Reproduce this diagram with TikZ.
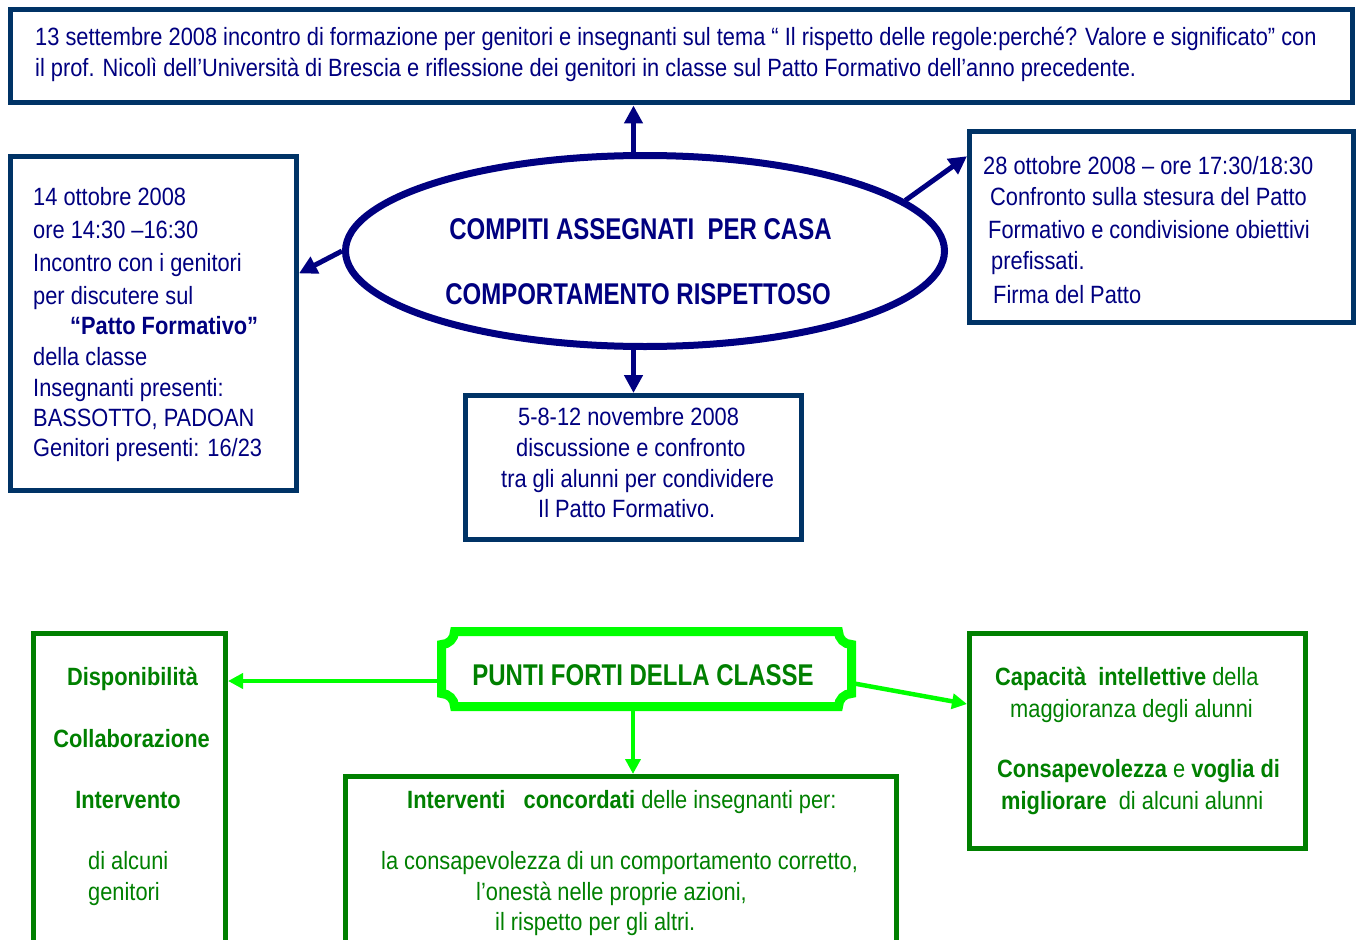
\documentclass[tikz,border=0pt]{standalone}
\usepackage{fontspec}
\setmainfont{Liberation Sans}[FakeStretch=0.873]
\newfontfamily\bigboldfont{Liberation Sans}[FakeStretch=0.80]
\usetikzlibrary{arrows.meta,shapes.geometric,calc}
\definecolor{navyframe}{RGB}{0,51,102}
\definecolor{navytext}{RGB}{0,0,128}
\definecolor{limegreen}{RGB}{0,255,0}
\definecolor{darkgreen}{RGB}{0,128,0}
\tikzset{
  nbox/.style={draw=navyframe, line width=5pt, rectangle, inner sep=0pt, fill=white},
  gbox/.style={draw=darkgreen, line width=5pt, rectangle, inner sep=0pt, fill=white},
  ntext/.style={text=navytext, anchor=base west, inner sep=0pt},
  nctext/.style={text=navytext, anchor=base, inner sep=0pt, font=\bigboldfont\fontsize{30}{36}\selectfont\bfseries},
  gtext/.style={text=darkgreen, anchor=base west, inner sep=0pt},
  gctext/.style={text=darkgreen, anchor=base, inner sep=0pt, font=\fontsize{25}{31}\selectfont\bfseries},
  gbigtext/.style={text=darkgreen, anchor=base, inner sep=0pt, font=\bigboldfont\fontsize{30}{36}\selectfont\bfseries},
  narrow/.style={draw=navytext, line width=5pt, -{Triangle[length=18pt,width=18pt]}},
  garrow/.style={draw=limegreen, line width=4.5pt, -{Triangle[length=15pt,width=15pt]}},
}
\begin{document}
\begin{tikzpicture}[x=1pt,y=1pt,font=\fontsize{25}{31}\selectfont]
\clip (0,0) rectangle (1359,-939);
\fill[white] (0,0) rectangle (1359,-939);

% ---------- navy part ----------
\node[nbox, minimum width=1342pt, minimum height=93pt] (top) at (681,-56.5) {};
\node[nbox, minimum width=286pt, minimum height=334pt] (left) at (153.5,-323.5) {};
\node[nbox, minimum width=384pt, minimum height=191pt] (right) at (1161.5,-227) {};
\node[nbox, minimum width=336pt, minimum height=144pt] (mid) at (633.5,-467.5) {};
\node[draw=navytext, line width=7pt, ellipse, inner sep=0pt, minimum width=599pt, minimum height=191pt] (ell) at (645,-251) {};

\draw[narrow] (ell.north -| mid.north) -- (top.south -| mid.north);
\draw[narrow] (ell.west) -- (left.19);
\draw[narrow] (ell.11) -- (right.160);
\draw[narrow] (ell.south -| mid.north) -- (mid.north);

\node[ntext] (t1) at (35,-46) {13 settembre 2008 incontro di formazione per genitori e insegnanti sul tema “ Il rispetto delle regole:perché? Valore e significato” con};
\node[ntext] (t2) at (35,-77) {il prof. Nicolì dell’Università di Brescia e riflessione dei genitori in classe sul Patto Formativo dell’anno precedente.};

\node[ntext] (l1) at (33,-205) {14 ottobre 2008};
\node[ntext] (l2) at (33,-238) {ore 14:30 –16:30};
\node[ntext] (l3) at (33,-271) {Incontro con i genitori};
\node[ntext] (l4) at (33,-304) {per discutere sul};
\node[ntext, font=\fontsize{25}{31}\selectfont\bfseries] (l5) at (70,-334) {“Patto Formativo”};
\node[ntext] (l6) at (33,-365) {della classe};
\node[ntext] (l7) at (33,-396) {Insegnanti presenti:};
\node[ntext] (l8) at (33,-426) {BASSOTTO, PADOAN};
\node[ntext] (l9) at (33,-456) {Genitori presenti: 16/23};

\node[ntext] (r1) at (983,-174) {28 ottobre 2008 – ore 17:30/18:30};
\node[ntext] (r2) at (990,-205) {Confronto sulla stesura del Patto};
\node[ntext] (r3) at (988,-238) {Formativo e condivisione obiettivi};
\node[ntext] (r4) at (991,-269) {prefissati.};
\node[ntext] (r5) at (993,-303) {Firma del Patto};

\node[ntext] (m1) at (518,-425) {5-8-12 novembre 2008};
\node[ntext] (m2) at (516,-456) {discussione e confronto};
\node[ntext] (m3) at (501,-487) {tra gli alunni per condividere};
\node[ntext] (m4) at (538,-517) {Il Patto Formativo.};

\node[nctext] (e1) at (640.5,-239) {COMPITI ASSEGNATI\ \ PER CASA};
\node[nctext] (e2) at (638,-304) {COMPORTAMENTO RISPETTOSO};

% ---------- green part ----------
\node[gbox, minimum width=192pt, minimum height=340pt] (lg) at (129.5,-803.5) {};
\node[gbox, minimum width=336pt, minimum height=215pt] (rg) at (1137.5,-741) {};
\node[gbox, minimum width=551pt, minimum height=200pt] (mg) at (621,-876.5) {};
\node[rectangle, inner sep=0pt, outer sep=0pt, minimum width=410pt, minimum height=75pt] (punti) at (646.5,-669) {};
\def\rr{13}
\draw[limegreen, line width=9pt, fill=white]
  ($(punti.north west)+(\rr,0)$) -- ($(punti.north east)+(-\rr,0)$)
  arc[start angle=180,end angle=270,radius=\rr]
  -- ($(punti.south east)+(0,\rr)$)
  arc[start angle=90,end angle=180,radius=\rr]
  -- ($(punti.south west)+(\rr,0)$)
  arc[start angle=0,end angle=90,radius=\rr]
  -- ($(punti.north west)+(0,-\rr)$)
  arc[start angle=270,end angle=360,radius=\rr] -- cycle;
\node[gbigtext] (p1) at (643,-685) {PUNTI FORTI DELLA CLASSE};

\draw[garrow] ([yshift=-12pt]punti.west) -- ([yshift=-12pt]punti.west -| lg.east);
\draw[garrow] ([yshift=-14pt]punti.east) -- ([yshift=37pt]rg.west);
\draw[garrow] ([xshift=-13.5pt]punti.south) -- ([xshift=12pt]mg.north);

\node[gctext] (g1) at (132.5,-685) {Disponibilità};
\node[gctext] (g2) at (131.5,-747) {Collaborazione};
\node[gctext] (g3) at (128,-808) {Intervento};
\node[gtext] (g4) at (88,-869) {di alcuni};
\node[gtext] (g5) at (88,-900) {genitori};

\node[gtext] (h1) at (995,-685) {\textbf{Capacità\ \ intellettive} della};
\node[gtext] (h2) at (1010,-717) {maggioranza degli alunni};
\node[gtext] (h3) at (997,-777) {\textbf{Consapevolezza} e \textbf{voglia di}};
\node[gtext] (h4) at (1001,-809) {\textbf{migliorare}\ \ di alcuni alunni};

\node[gtext] (k1) at (407,-808) {\textbf{Interventi\ \ \ concordati} delle insegnanti per:};
\node[gtext] (k2) at (381,-869) {la consapevolezza di un comportamento corretto,};
\node[gtext] (k3) at (476,-900) {l’onestà nelle proprie azioni,};
\node[gtext] (k4) at (495,-930) {il rispetto per gli altri.};
\end{tikzpicture}
\end{document}
